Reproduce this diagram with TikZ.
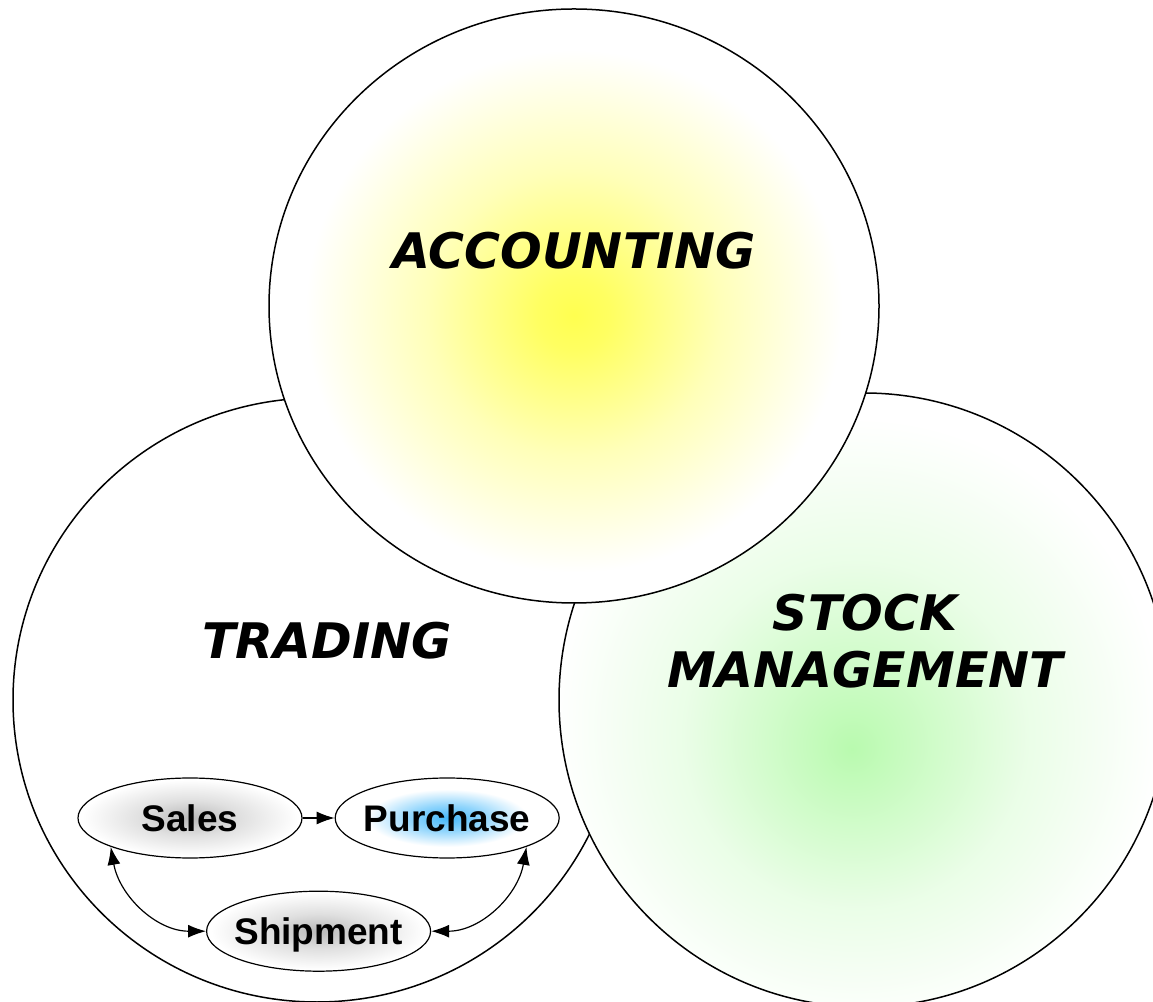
\documentclass[tikz,border=0pt]{standalone}
\usepackage{fontspec}
\setmainfont{Liberation Sans}
\newfontfamily\headfont{DejaVu Sans}
\usetikzlibrary{shapes.geometric, arrows.meta, positioning, calc}
\definecolor{glowyellow}{RGB}{255,255,80}
\definecolor{glowgreen}{RGB}{185,250,175}
\definecolor{glowblue}{RGB}{70,185,250}
\definecolor{glowgray}{RGB}{185,185,185}
\pgfdeclareradialshading{yellowglow}{\pgfpoint{0bp}{-0.8bp}}{color(0bp)=(glowyellow); color(3bp)=(glowyellow!90!white); color(12bp)=(glowyellow!40!white); color(22bp)=(white); color(50bp)=(white)}
\pgfdeclareradialshading{greenglow}{\pgfpoint{-1bp}{-4bp}}{color(0bp)=(glowgreen); color(5bp)=(glowgreen!75!white); color(14bp)=(glowgreen!30!white); color(25bp)=(white); color(50bp)=(white)}
\pgfdeclareradialshading{blueglow}{\pgfpoint{0bp}{0bp}}{color(0bp)=(glowblue); color(8bp)=(glowblue!60!white); color(18bp)=(white); color(50bp)=(white)}
\pgfdeclareradialshading{grayglow}{\pgfpoint{0bp}{0bp}}{color(0bp)=(glowgray); color(11bp)=(glowgray!45!white); color(24bp)=(white); color(50bp)=(white)}
\tikzstyle{area} = [draw=black, line width=1.5pt]
\tikzstyle{title} = [font=\headfont\bfseries\itshape\fontsize{49}{57}\selectfont, align=center, inner sep=0pt]
\tikzstyle{oval} = [ellipse, draw=black, line width=1.2pt, minimum width=224pt, minimum height=80pt, inner sep=-15pt, font=\bfseries\fontsize{37}{40}\selectfont, text height=26.5pt, text depth=0pt]
\tikzstyle{arrow} = [line width=1.2pt, -{Latex[length=18pt,width=13pt]}]
\tikzstyle{twoway} = [line width=1.2pt, {Latex[length=18pt,width=13pt]}-{Latex[length=18pt,width=13pt]}]
\begin{document}
\begin{tikzpicture}[x=1pt, y=1pt, node distance=32pt]
\useasboundingbox (0,0) rectangle (1153,1001);
% the three areas
\draw [area] (317,301) ellipse [x radius=304, y radius=302];
\draw [area, shading=greenglow] (864,301) ellipse [x radius=305, y radius=307];
\draw [area, shading=yellowglow] (574,695) ellipse [x radius=305, y radius=297];
\node (acc) [title] at (574,750) {ACCOUNTING};
\node (trd) [title] at (327,360) {TRADING};
\node (stk) [title] at (865,360) {STOCK\\MANAGEMENT};
% trading cycle
\node (sales) [oval, shading=grayglow] at (190,183) {Sales};
\node (purchase) [oval, shading=blueglow, right=of sales] {Purchase};
\node (shipment) [oval, shading=grayglow, below=32pt of $(sales.south)!0.5!(purchase.south)$] {Shipment};
\draw [arrow] (sales) -- (purchase);
\draw [twoway] (sales.-160) to[out=-80, in=180] (shipment.west);
\draw [twoway] (purchase.-20) to[out=-100, in=0] (shipment.east);
\end{tikzpicture}
\end{document}
